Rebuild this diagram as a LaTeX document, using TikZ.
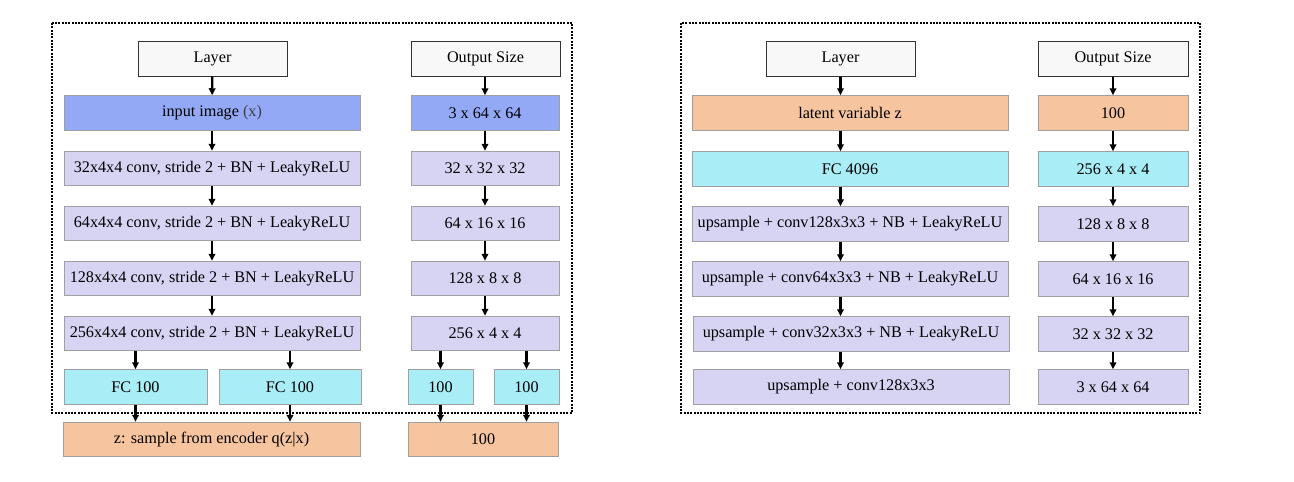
\documentclass[tikz,border=0pt]{standalone}
\usepackage{fontspec}
\setmainfont{Liberation Serif}
\usetikzlibrary{arrows.meta}
\definecolor{cblue}{HTML}{93A9F6}
\definecolor{clav}{HTML}{D6D3F3}
\definecolor{ccyan}{HTML}{A9EDF7}
\definecolor{corange}{HTML}{F6C5A0}
\definecolor{chdr}{HTML}{F8F8F8}
\definecolor{cbord}{HTML}{A0A0A0}
\begin{document}
\begin{tikzpicture}[x=1pt,y=-1pt,
  box/.style={draw=cbord,line width=1pt,inner sep=0pt,minimum height=34.5pt,font=\fontsize{16.2}{19}\selectfont},
  hdr/.style={box,draw=black!80,fill=chdr,minimum width=149pt,minimum height=35pt},
  bl/.style={box,fill=cblue},
  lv/.style={box,fill=clav},
  cy/.style={box,fill=ccyan},
  og/.style={box,fill=corange},
  arr/.style={line width=2.2pt,-{Triangle[length=7pt,width=6.5pt]}},
  frame/.style={line width=2.6pt,dash pattern=on 2pt off 1.3pt}]
\useasboundingbox (0,0) rectangle (1294,482);
% ---------------- left panel ----------------
\draw[frame] (52,23) rectangle (572,413);
\node[hdr] (lh) at (212.5,58.5) {Layer};
\node[hdr] (loh) at (485.5,58.5) {Output Size};
\node[bl,minimum width=296pt] (l1) at (212,113) {input image \textcolor{black!75}{(x)}};
\node[lv,minimum width=296pt] (l2) at (212,168.5) {32x4x4 conv, stride 2 + BN + LeakyReLU};
\node[lv,minimum width=296pt] (l3) at (212,223.5) {64x4x4 conv, stride 2 + BN + LeakyReLU};
\node[lv,minimum width=296pt] (l4) at (212,278.5) {128x4x4 conv, stride 2 + BN + LeakyReLU};
\node[lv,minimum width=296pt] (l5) at (212,333.5) {256x4x4 conv, stride 2 + BN + LeakyReLU};
\node[cy,minimum width=143pt] (fa) at (135.5,387) {FC 100};
\node[cy,minimum width=142pt] (fb) at (290,387) {FC 100};
\node[og,minimum width=297pt] (z) at (211.5,439.5) {z: sample from encoder q(z|x)};
\node[bl,minimum width=148pt] (o1) at (485,113) {3 x 64 x 64};
\node[lv,minimum width=148pt] (o2) at (485,168.5) {32 x 32 x 32};
\node[lv,minimum width=148pt] (o3) at (485,223.5) {64 x 16 x 16};
\node[lv,minimum width=148pt] (o4) at (485,278.5) {128 x 8 x 8};
\node[lv,minimum width=148pt] (o5) at (485,333.5) {256 x 4 x 4};
\node[cy,minimum width=65pt] (oa) at (440.5,387) {100};
\node[cy,minimum width=65pt] (ob) at (526.5,387) {100};
\node[og,minimum width=150pt] (oz) at (483,439.5) {100};
\draw[arr] (lh) -- (l1);
\draw[arr] (l1) -- (l2);
\draw[arr] (l2) -- (l3);
\draw[arr] (l3) -- (l4);
\draw[arr] (l4) -- (l5);
\draw[arr] (l5.south -| fa) -- (fa.north);
\draw[arr] (l5.south -| fb) -- (fb.north);
\draw[arr] (fa.south) -- (z.north -| fa);
\draw[arr] (fb.south) -- (z.north -| fb);
\draw[arr] (loh.south -| o1) -- (o1);
\draw[arr] (o1) -- (o2);
\draw[arr] (o2) -- (o3);
\draw[arr] (o3) -- (o4);
\draw[arr] (o4) -- (o5);
\draw[arr] (o5.south -| oa) -- (oa.north);
\draw[arr] (o5.south -| ob) -- (ob.north);
\draw[arr] (oa.south) -- (oz.north -| oa);
\draw[arr] (ob.south) -- (oz.north -| ob);
% ---------------- right panel ----------------
\draw[frame] (681,23) rectangle (1200,413);
\node[hdr] (rh) at (840.5,58.5) {Layer};
\node[hdr,minimum width=150pt] (roh) at (1113,58.5) {Output Size};
\node[og,minimum width=316pt] (r1) at (850,113) {latent variable z};
\node[cy,minimum width=316pt] (r2) at (850,169) {FC 4096};
\node[lv,minimum width=316pt] (r3) at (850,224) {upsample + conv128x3x3 + NB + LeakyReLU};
\node[lv,minimum width=316pt] (r4) at (850,279) {upsample + conv64x3x3 + NB + LeakyReLU};
\node[lv,minimum width=316pt] (r5) at (851,334) {upsample + conv32x3x3 + NB + LeakyReLU};
\node[lv,minimum width=316pt] (r6) at (851,387) {upsample + conv128x3x3};
\node[og,minimum width=150pt] (p1) at (1113,113) {100};
\node[cy,minimum width=150pt] (p2) at (1113,169) {256 x 4 x 4};
\node[lv,minimum width=150pt] (p3) at (1113,224) {128 x 8 x 8};
\node[lv,minimum width=150pt] (p4) at (1113,279) {64 x 16 x 16};
\node[lv,minimum width=150pt] (p5) at (1113,334) {32 x 32 x 32};
\node[lv,minimum width=150pt] (p6) at (1113,387) {3 x 64 x 64};
\draw[arr] (rh.south) -- (r1.north -| rh);
\draw[arr] (r1.south -| rh) -- (r2.north -| rh);
\draw[arr] (r2.south -| rh) -- (r3.north -| rh);
\draw[arr] (r3.south -| rh) -- (r4.north -| rh);
\draw[arr] (r4.south -| rh) -- (r5.north -| rh);
\draw[arr] (r5.south -| rh) -- (r6.north -| rh);
\draw[arr] (roh) -- (p1);
\draw[arr] (p1) -- (p2);
\draw[arr] (p2) -- (p3);
\draw[arr] (p3) -- (p4);
\draw[arr] (p4) -- (p5);
\draw[arr] (p5) -- (p6);
\end{tikzpicture}
\end{document}
